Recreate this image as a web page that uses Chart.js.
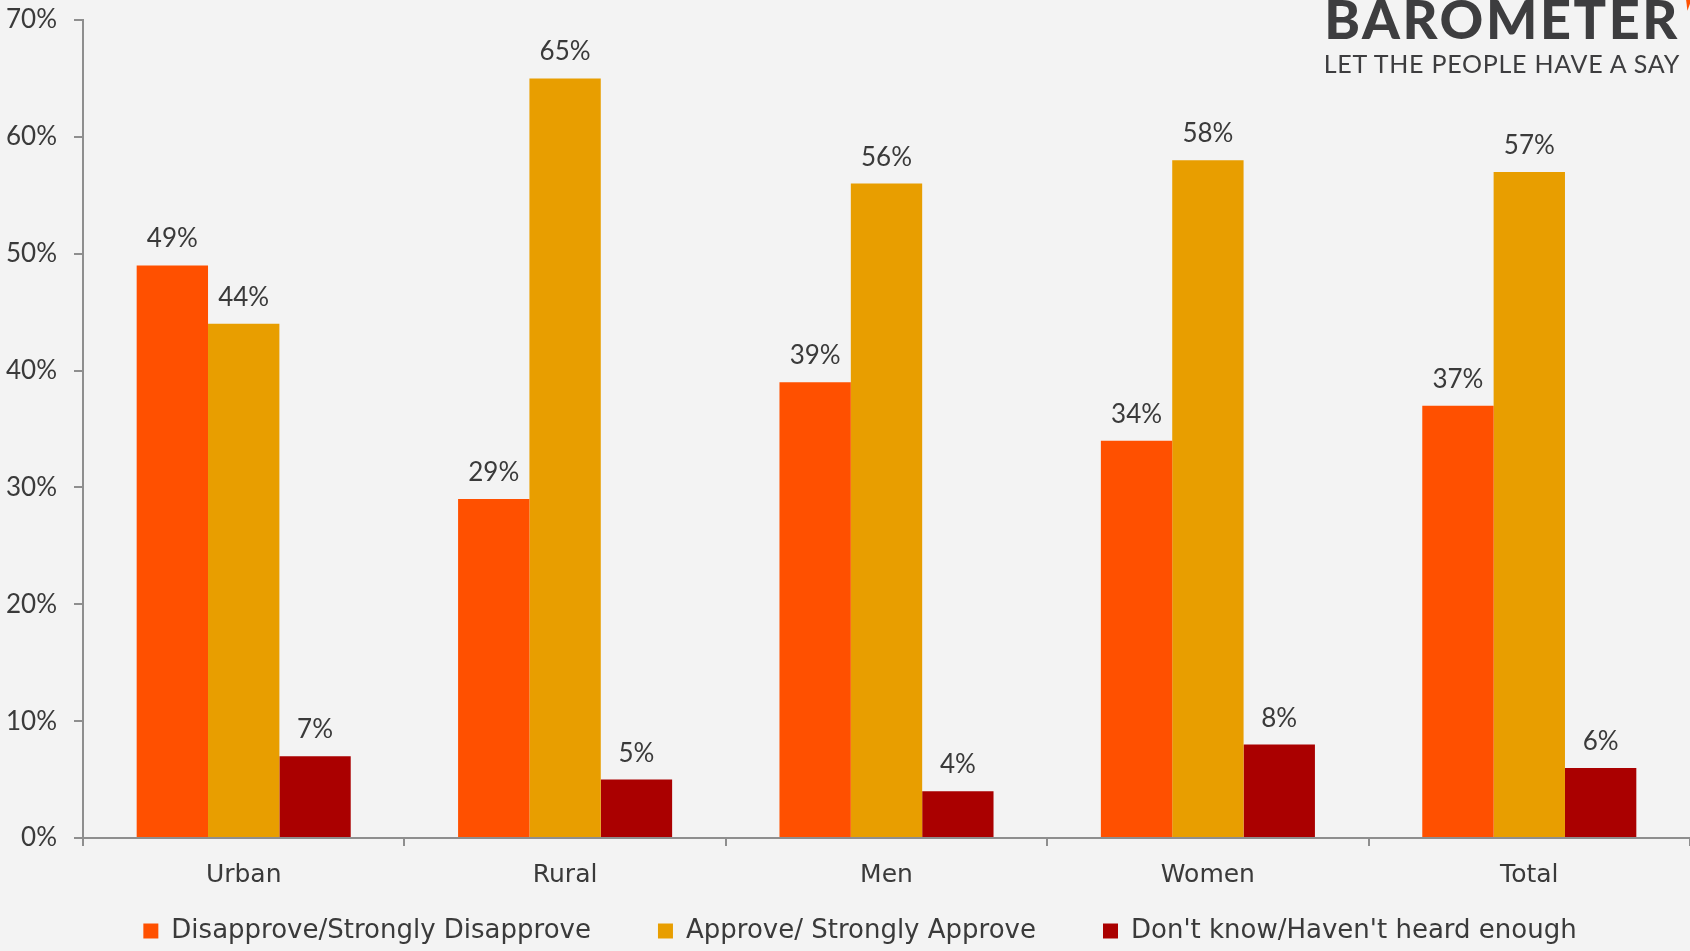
<!DOCTYPE html>
<html>
<head>
<meta charset="utf-8">
<script src="https://cdn.jsdelivr.net/npm/chart.js@4"></script>
<style>
  html, body { margin: 0; padding: 0; background: #f3f3f3; }
  #wrap { position: relative; width: 1690px; height: 951px; overflow: hidden; }
  #logo { position: absolute; right: 10px; top: -14px; font-family: Lato, sans-serif; font-weight: 900;
          font-size: 54px; color: #3d3d3f; letter-spacing: 2.6px; }
  #tick { position: absolute; right: 0px; top: -4px; width: 0; height: 0;
          border-left: 7px solid transparent; border-top: 14px solid #ff5000; transform: rotate(20deg); }
  #tag { position: absolute; right: 10px; top: 48px; font-family: Lato, sans-serif; font-size: 25px;
         color: #3d3d3f; letter-spacing: 0.75px; }
</style>
</head>
<body>
<div id="wrap">
  <canvas id="chart" width="1690" height="951"></canvas>
  <div id="logo">BAROMETER</div>
  <div id="tick"></div>
  <div id="tag">LET THE PEOPLE HAVE A SAY</div>
</div>
<script>
const categories = ['Urban', 'Rural', 'Men', 'Women', 'Total'];
const disapprove = [49, 29, 39, 34, 37];
const approve = [44, 65, 56, 58, 57];
const dontKnow = [7, 5, 4, 8, 6];
const seriesNames = ['Disapprove/Strongly Disapprove', 'Approve/ Strongly Approve', "Don't know/Haven't heard enough"];
const colors = ['#ff5000', '#e89e00', '#aa0000'];

const NUM_FONT = 'Lato, sans-serif';
const WORD_FONT = '"DejaVu Sans", sans-serif';
const TEXT = '#3a3a3a';

// draws the value above every bar
const valueLabels = {
  id: 'valueLabels',
  afterDatasetsDraw(chart) {
    const ctx = chart.ctx;
    ctx.save();
    ctx.font = '26px ' + NUM_FONT;
    ctx.fillStyle = TEXT;
    ctx.textAlign = 'center';
    ctx.textBaseline = 'alphabetic';
    chart.data.datasets.forEach((ds, i) => {
      chart.getDatasetMeta(i).data.forEach((bar, j) => {
        ctx.fillText(ds.data[j] + '%', bar.x, bar.y - 18);
      });
    });
    ctx.restore();
  }
};

// legend padding is used both ways, so fix its height by hand
// and let the x labels draw past their small box
const legendHeight = {
  id: 'legendHeight',
  afterInit(chart) {
    const legend = chart.legend;
    const fit = legend.fit;
    legend.fit = function () {
      fit.call(this);
      this.height = 100;
    };
  },
  afterLayout(chart) {
    const x = chart.scales.x;
    x.bottom = chart.height;
    x.height = x.bottom - x.top;
    chart.legend.left += 30;
  }
};

new Chart(document.getElementById('chart'), {
  type: 'bar',
  data: {
    labels: categories,
    datasets: [
      { label: seriesNames[0], data: disapprove, backgroundColor: colors[0] },
      { label: seriesNames[1], data: approve, backgroundColor: colors[1] },
      { label: seriesNames[2], data: dontKnow, backgroundColor: colors[2] }
    ]
  },
  options: {
    responsive: false,
    animation: false,
    layout: { padding: 0 },
    datasets: { bar: { barPercentage: 1, categoryPercentage: 0.666 } },
    scales: {
      x: {
        grid: { display: true, drawOnChartArea: false, offset: true, tickLength: 8, color: '#8e8e8e', lineWidth: 2 },
        border: { color: '#8e8e8e', width: 2 },
        ticks: { color: TEXT, font: { family: WORD_FONT, size: 25 }, padding: 14 },
        afterFit(scale) { scale.height = 13; }
      },
      y: {
        min: 0, max: 70,
        grid: { display: true, drawOnChartArea: false, tickLength: 9, color: '#8e8e8e', lineWidth: 2 },
        border: { color: '#8e8e8e', width: 2 },
        ticks: { stepSize: 10, color: TEXT, font: { family: NUM_FONT, size: 26, lineHeight: '6px' }, padding: 17,
                 callback: v => v + '%' },
        afterFit(scale) { scale.width = 83; }
      }
    },
    plugins: {
      legend: {
        position: 'bottom',
        labels: { color: TEXT, font: { family: WORD_FONT, size: 26 }, boxWidth: 15, boxHeight: 15, padding: 67 }
      },
      tooltip: { enabled: false }
    }
  },
  plugins: [valueLabels, legendHeight]
});
</script>
</body>
</html>
